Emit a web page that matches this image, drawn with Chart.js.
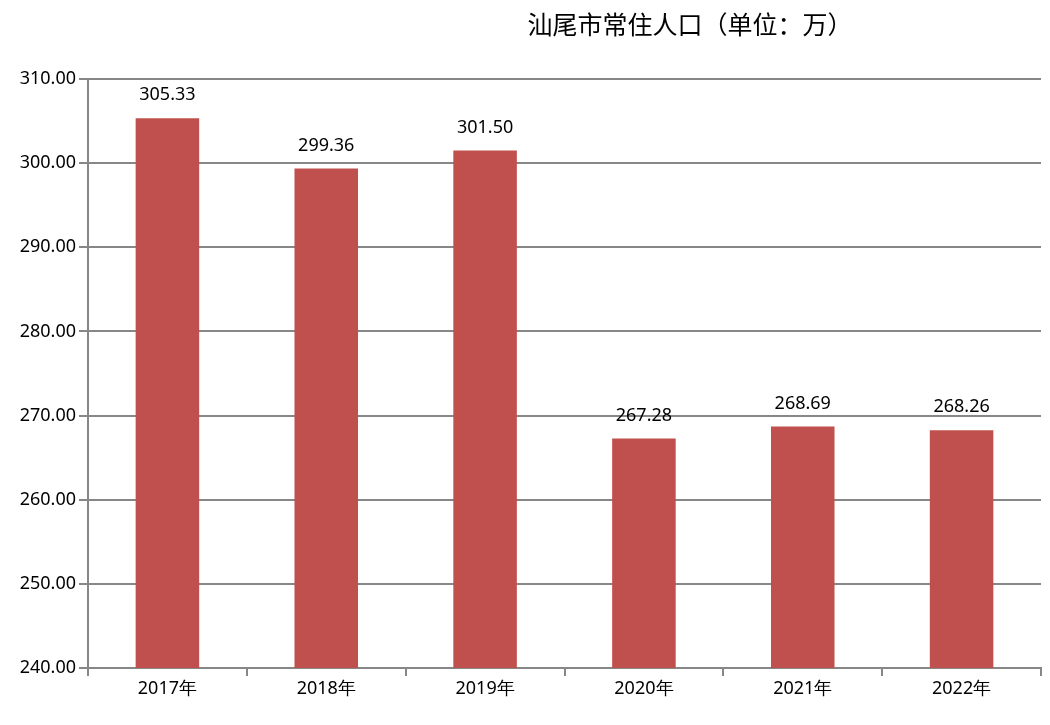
<!DOCTYPE html>
<html lang="zh">
<head>
<meta charset="utf-8">
<title>汕尾市常住人口</title>
<script src="https://cdn.jsdelivr.net/npm/chart.js@4.4.0/dist/chart.umd.min.js"></script>
<style>
  html, body { margin: 0; padding: 0; background: #fff; }
  #wrap { width: 1050px; height: 725px; }
</style>
</head>
<body>
<div id="wrap"><canvas id="chart"></canvas></div>
<script>
const years = ['2017年', '2018年', '2019年', '2020年', '2021年', '2022年'];
const population = [305.33, 299.36, 301.50, 267.28, 268.69, 268.26];
const titleText = '汕尾市常住人口（单位：万）';

const numFont = { family: '"Noto Sans", "DejaVu Sans", sans-serif', size: 18 };

// simple value labels above bars (no datalabels plugin available)
const barLabels = {
  id: 'barLabels',
  afterDatasetsDraw(chart) {
    const ctx = chart.ctx;
    const meta = chart.getDatasetMeta(0);
    ctx.save();
    ctx.font = numFont.size + 'px ' + numFont.family;
    ctx.fillStyle = '#000';
    ctx.textAlign = 'center';
    ctx.textBaseline = 'middle';
    meta.data.forEach((bar, i) => {
      ctx.fillText(population[i].toFixed(2), bar.x, bar.y - 23);
    });
    ctx.restore();
  }
};

const sideTitle = {
  id: 'sideTitle',
  afterDraw(chart) {
    const ctx = chart.ctx;
    ctx.save();
    ctx.font = '25px "Noto Sans CJK SC", sans-serif';
    ctx.fillStyle = '#000';
    ctx.textAlign = 'center';
    ctx.textBaseline = 'middle';
    ctx.fillText(titleText, 690, 24);
    ctx.restore();
  }
};

new Chart(document.getElementById('chart'), {
  type: 'bar',
  data: {
    labels: years,
    datasets: [{
      data: population,
      backgroundColor: '#C0504D',
      categoryPercentage: 1,
      barPercentage: 0.4
    }]
  },
  options: {
    responsive: true,
    maintainAspectRatio: false,
    animation: false,
    layout: { padding: { top: 79, right: 9, left: 0, bottom: 0 } },
    plugins: {
      legend: { display: false },
      tooltip: { enabled: false }
    },
    scales: {
      x: {
        grid: { drawOnChartArea: false, drawTicks: true, tickLength: 8, color: '#878787', lineWidth: 2 },
        border: { display: true, color: '#878787', width: 2 },
        ticks: { color: '#000', font: numFont, padding: 2 },
        afterFit(axis) { axis.height = 57; }
      },
      y: {
        min: 240,
        max: 310,
        grid: { color: '#878787', lineWidth: 2, drawTicks: true, tickLength: 9 },
        border: { display: true, color: '#878787', width: 2 },
        ticks: {
          stepSize: 10,
          color: '#000',
          font: numFont,
          padding: 3,
          callback: (v) => Number(v).toFixed(2)
        },
        afterFit(axis) { axis.width = 88; }
      }
    }
  },
  plugins: [barLabels, sideTitle]
});
</script>
</body>
</html>
